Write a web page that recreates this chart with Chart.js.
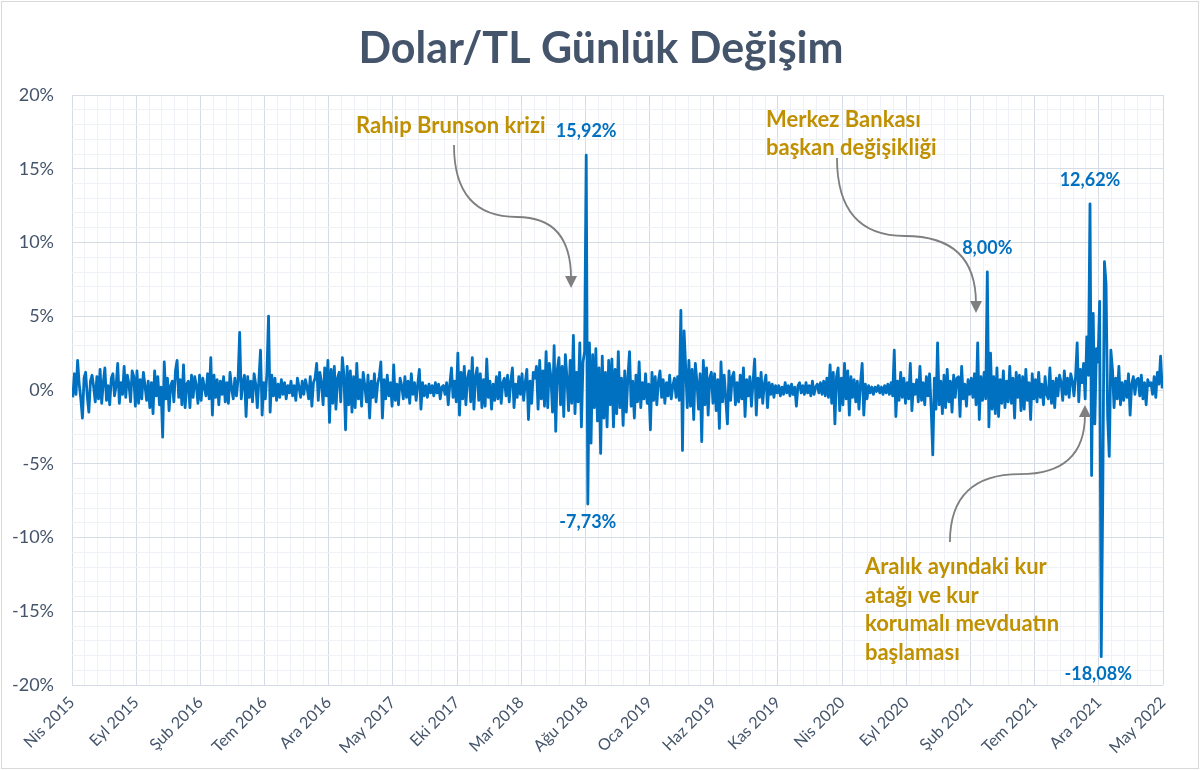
<!DOCTYPE html>
<html lang="tr">
<head>
<meta charset="utf-8">
<title>Dolar/TL Günlük Değişim</title>
<script src="https://cdn.jsdelivr.net/npm/chart.js@4.4.1/dist/chart.umd.min.js"></script>
<style>
  html, body { margin: 0; padding: 0; background: #fff; }
</style>
</head>
<body>
<canvas id="fxChart" width="1200" height="770"></canvas>
<script>
// x axis labels, one every 5 months from Nisan 2015
const monthLabels = [
  "Nis 2015", "Eyl 2015", "Şub 2016", "Tem 2016", "Ara 2016", "May 2017",
  "Eki 2017", "Mar 2018", "Ağu 2018", "Oca 2019", "Haz 2019", "Kas 2019",
  "Nis 2020", "Eyl 2020", "Şub 2021", "Tem 2021", "Ara 2021", "May 2022"
];

// daily USD/TRY change in %, 8 readings per month
const r2015 = [
  -0.5, 1.1, -0.3, 2.0, 0.4, -0.6, -1.9, 0.8,
  1.2, -0.4, -1.5, 0.6, 1.0, 0.2, -0.8, 0.9,
  -0.6, 1.4, -0.9, 0.5, 1.5, -0.7, 0.3, -1.0,
  0.8, 1.1, -0.4, 0.3, 1.8, -0.9, 0.5, -0.3,
  1.6, -0.5, 1.0, 0.4, -0.8, 1.3, 0.9, -1.1,
  1.3, -0.9, 0.7, -0.6, 1.2, 0.3, -0.7, 0.6,
  -1.2, 0.5, -1.6, 1.3, -0.4, 0.9, -1.0, 0.2,
  -3.2, 1.9, -0.6, 0.8, -1.4, 0.3, 0.6, -0.8,
  1.3, 2.0, -0.5, 0.7, -1.0, 1.7, -1.2, 0.4
];
const r2016 = [
  0.6, -1.2, 1.0, -0.5, 0.9, 0.3, -0.9, 1.0,
  -0.7, 0.8, 0.2, -0.4, 1.1, -0.6, 2.2, -1.7,
  1.0, -0.5, 0.7, -1.0, 0.6, -0.3, 0.9, -0.8,
  0.5, -0.9, 1.2, 0.1, -0.6, 0.8, -0.4, 0.7,
  3.9, -0.6, 0.5, 1.0, -1.8, 0.9, -0.5, 0.6,
  -0.8, 1.1, 0.4, -1.2, 0.7, 2.7, -1.7, 0.5,
  -0.6, 1.2, 5.0, -1.5, 1.0, -0.4, 0.8, -0.7,
  0.4, -0.5, 0.7, -0.3, 0.5, -0.6, 0.3, -0.2,
  0.6, -0.4, 0.3, -0.7, 0.8, 0.2, -0.5, 0.6,
  -0.3, 0.7, 0.2, -0.6, 0.9, -1.1, 0.5, 0.8,
  1.8, -0.7, 1.2, 0.5, -1.0, 1.5, -0.4, 2.0,
  -2.2, 1.4, -0.9, 1.6, -1.3, 0.8, 1.2, -0.8
];
const r2017 = [
  2.2, 1.0, -2.7, 1.6, -1.0, 1.3, -1.5, 0.9,
  -1.2, 1.8, -0.6, 0.7, -1.1, 1.2, 0.3, -0.8,
  1.0, -1.9, 0.6, -0.5, 1.1, -0.8, 0.4, 0.9,
  1.9, -1.9, 0.7, -0.6, 1.0, -0.4, 0.5, -1.1,
  1.7, -0.7, 0.4, -1.0, 0.8, 0.3, -0.6, 0.9,
  -0.5, 0.6, -0.9, 1.1, -0.3, 0.5, -0.7, 0.4,
  1.4, -1.3, 0.5, -0.4, 0.3, -0.5, 0.4, -0.2,
  0.3, -0.4, 0.5, -0.2, 0.4, -0.6, 0.2, 0.3,
  -0.3, 0.5, -1.0, 0.4, 1.5, -0.5, 0.6, -0.8,
  2.5, -1.7, 1.2, -0.6, 1.6, -1.0, 0.8, 1.3,
  -0.8, 2.2, -1.3, 0.9, 1.5, -0.7, 1.1, -1.2,
  0.7, -1.1, 2.1, -0.5, 0.6, -1.3, 0.4, -0.7
];
const r2018 = [
  0.9, -0.6, 1.2, -0.9, 0.5, 0.8, -0.4, 1.0,
  -0.8, 0.6, 1.5, -1.2, 0.4, -0.5, 0.9, -0.3,
  1.1, -0.7, 0.5, 1.4, -2.0, 0.6, -0.9, 1.2,
  0.8, 1.6, -1.3, 2.0, -0.6, 1.3, -1.1, 2.6,
  -1.2, 1.8, 0.9, -1.5, 3.0, -2.8, 1.4, 2.2,
  -1.0, 1.6, -1.8, 2.4, 0.8, -1.4, 2.0, -0.9,
  3.7, -1.6, 1.2, -0.8, 3.2, -2.5, 1.9, 2.6,
  15.92, -7.73, 3.2, -3.6, 2.4, -1.2, 2.8, -2.1,
  1.5, -4.3, 2.3, -1.9, 1.2, -2.5, 2.0, -1.0,
  2.1, -2.5, 1.4, -1.6, 2.6, -1.2, 0.8, -2.4,
  1.3, -1.5, 0.9, 2.6, -1.1, 0.6, -1.9, 1.0,
  -0.8, 1.9, -1.2, 0.5, -0.6, 1.1, -0.9, 0.4
];
const r2019 = [
  -2.7, 1.2, -0.7, 0.9, -1.0, 0.6, 1.3, -0.5,
  0.7, -0.9, 0.5, -0.4, 1.0, -0.6, 0.3, 0.8,
  -0.5, 0.9, -0.7, 5.4, -4.1, 4.0, 1.5, -1.2,
  2.0, -1.1, 1.4, -2.0, 1.8, 0.6, -1.3, 1.1,
  -3.5, 2.0, -1.0, 1.5, -1.7, 0.8, 1.2, -0.9,
  1.1, -1.4, 0.7, -2.6, 1.9, -0.8, 1.0, -0.6,
  -2.3, 1.3, -0.7, 0.9, 1.2, -1.0, 0.5, -0.8,
  1.0, -0.6, 1.5, -1.8, 0.7, -0.4, 0.9, -1.1,
  0.6, 2.1, -1.7, 0.8, -0.5, 1.2, -0.9, 0.4,
  1.0, -1.2, 0.5, -0.3, 0.4, -0.5, 0.3, -0.2,
  0.3, -0.4, 0.2, -0.3, 0.5, -0.2, 0.3, -0.4,
  0.4, -0.3, 0.2, -1.1, 0.3, 0.5, -0.2, 0.3
];
const r2020 = [
  -0.3, 0.5, -0.2, 0.3, -0.4, 0.6, -0.3, 0.2,
  0.4, -0.2, 0.5, -0.3, 0.6, -0.4, 0.8, -0.5,
  1.7, -0.9, 1.2, -2.3, 0.9, 1.5, -1.4, 0.8,
  -1.0, 1.8, -0.6, 1.3, -1.7, 0.9, -0.5, 0.7,
  -0.8, 0.6, -1.3, 0.5, 1.8, -1.7, 0.4, -0.6,
  0.3, -0.2, 0.2, -0.3, 0.2, -0.1, 0.3, -0.2,
  0.2, -0.3, 0.3, -0.2, 0.4, -0.3, 0.5, -0.4,
  2.7, -1.8, 0.6, -0.7, 1.2, -0.5, 0.8, -0.9,
  0.5, -0.6, 1.8, -1.4, 0.4, -0.3, 0.7, -0.8,
  1.6, -0.7, 0.5, -1.0, 0.9, -0.4, 1.1, -1.2,
  -4.4, 0.8, -1.3, 3.2, -1.0, 0.6, -1.6, 1.0,
  -1.2, 1.4, -0.8, 0.6, -1.5, 1.0, -0.5, 0.8
];
const r2021 = [
  0.9, -1.8, 1.6, -0.6, 0.4, -1.1, 0.7, -0.3,
  0.8, -0.5, 1.1, -1.0, 3.2, -2.0, 0.9, -0.7,
  1.2, -0.6, 8.00, -2.5, 2.5, -1.3, 0.9, -1.6,
  1.5, -1.8, 0.7, -0.9, 1.3, -1.2, 0.6, -0.8,
  1.6, -0.9, 0.8, -1.9, 1.2, -0.5, 1.0, -1.4,
  0.9, -1.3, 1.4, -0.7, 0.5, -2.0, 1.1, -0.6,
  0.7, -0.8, 1.2, -0.5, 0.4, -1.0, 0.9, -0.3,
  -0.6, 1.5, -0.9, 0.6, -1.2, 0.8, -0.4, 1.0,
  0.5, -0.7, 1.3, -0.3, 0.8, -0.5, 1.1, 0.6,
  -0.4, 0.9, 3.2, -0.8, 1.4, 0.5, 1.8, -0.6,
  3.6, 1.0, 12.62, -5.8, 5.2, -2.3, 2.8, 1.9,
  6.0, -18.08, -6.6, 8.7, 7.2, -1.8, -4.5, 2.7
];
const r2022 = [
  1.4, -1.2, 0.8, -0.6, 1.6, -1.0, 0.5, -0.7,
  0.6, -0.5, 1.1, -1.7, 0.4, 0.9, -0.3, 0.7,
  0.8, -0.4, 1.0, -0.6, 0.5, -1.0, 0.7, 0.3,
  0.5, -0.3, 0.9, -0.5, 1.2, 0.4, 2.3, 0.1
];

// values that get a label on the chart
const peakValues = [15.92, -7.73, 8.00, 12.62, -18.08];

const titleText = "Dolar/TL Günlük Değişim";
const noteBrunson = ["Rahip Brunson krizi"];
const noteMerkez = ["Merkez Bankası", "başkan değişikliği"];
const noteAralik = ["Aralık ayındaki kur", "atağı ve kur", "korumalı mevduatın", "başlaması"];

const PER_MONTH = 8;
const FONT = "Lato, 'Open Sans', sans-serif";
const TEXT_DARK = "#44546A";
const GOLD = "#BF9000";
const BLUE = "#0070C0";

const allValues = [].concat(r2015, r2016, r2017, r2018, r2019, r2020, r2021, r2022);
const points = allValues.map((v, i) => ({ x: (i + 0.5) / PER_MONTH, y: v }));

// where the notes / arrows sit, in axis units (month index, percent)
const notes = [
  { lines: noteBrunson, x: 22.13, y: 17.40 },
  { lines: noteMerkez, x: 54.07, y: 17.85 },
  { lines: noteAralik, x: 61.78, y: -12.47 }
];
const arrows = [
  { from: [29.76, 16.61], mid: [34.67, 11.73], to: [38.88, 6.92] },
  { from: [59.6, 15.73], mid: [64.9, 10.44], to: [70.43, 5.22] },
  { from: [68.4, -10.3], mid: [73.86, -5.7], to: [78.92, -1.02] }
];
const peakOffsets = { "15.92": [0, -24], "-7.73": [0, 18], "8": [0, -24], "12.62": [0, -24], "-18.08": [-3, 18] };

const fmtPct = (v) => v.toFixed(2).replace(".", ",") + "%";

const decorPlugin = {
  id: "decor",
  beforeDraw(chart) {
    const ctx = chart.ctx;
    ctx.save();
    ctx.fillStyle = "#fff";
    ctx.fillRect(0, 0, chart.width, chart.height);
    ctx.strokeStyle = "#D9D9D9";
    ctx.lineWidth = 1;
    ctx.strokeRect(1.5, 1.5, chart.width - 3, chart.height - 3);
    // title
    ctx.fillStyle = TEXT_DARK;
    ctx.font = "bold 43px " + FONT;
    ctx.textAlign = "center";
    ctx.textBaseline = "alphabetic";
    ctx.fillText(titleText, 601, 63);
    ctx.restore();
  },
  afterDatasetsDraw(chart) {
    const ctx = chart.ctx;
    const xs = chart.scales.x, ys = chart.scales.y;
    const px = (p) => [xs.getPixelForValue(p[0]), ys.getPixelForValue(p[1])];
    ctx.save();

    // grey curved arrows
    ctx.strokeStyle = "#7F7F7F";
    ctx.fillStyle = "#7F7F7F";
    ctx.lineWidth = 1.8;
    arrows.forEach((a) => {
      const f = px(a.from), m = px(a.mid), t = px(a.to);
      const c2 = [t[0], m[1]];
      const ang = Math.atan2(t[1] - c2[1], t[0] - c2[0]);
      const head = 12;
      const end = [t[0] - Math.cos(ang) * head * 0.8, t[1] - Math.sin(ang) * head * 0.8];
      ctx.beginPath();
      ctx.moveTo(f[0], f[1]);
      ctx.quadraticCurveTo(f[0], m[1], m[0], m[1]);
      ctx.quadraticCurveTo(c2[0], c2[1], end[0], end[1]);
      ctx.stroke();
      ctx.beginPath();
      ctx.moveTo(t[0], t[1]);
      ctx.lineTo(t[0] - Math.cos(ang) * head + Math.sin(ang) * 6, t[1] - Math.sin(ang) * head - Math.cos(ang) * 6);
      ctx.lineTo(t[0] - Math.cos(ang) * head - Math.sin(ang) * 6, t[1] - Math.sin(ang) * head + Math.cos(ang) * 6);
      ctx.closePath();
      ctx.fill();
    });

    // gold notes
    ctx.fillStyle = GOLD;
    ctx.font = "bold 22px " + FONT;
    ctx.textAlign = "left";
    ctx.textBaseline = "alphabetic";
    notes.forEach((n) => {
      const p = px([n.x, n.y]);
      n.lines.forEach((line, i) => ctx.fillText(line, p[0], p[1] + i * 28.7));
    });

    // peak value labels
    const meta = chart.getDatasetMeta(0);
    ctx.fillStyle = BLUE;
    ctx.font = "bold 18px " + FONT;
    ctx.textAlign = "center";
    ctx.textBaseline = "middle";
    peakValues.forEach((v) => {
      const idx = allValues.indexOf(v);
      if (idx < 0) return;
      const el = meta.data[idx];
      const off = peakOffsets[String(v)] || [0, v > 0 ? -24 : 18];
      ctx.fillText(fmtPct(v), el.x + off[0], el.y + off[1]);
    });
    ctx.restore();
  }
};

const gridColor = (ctx) => (ctx.tick && ctx.tick.value % 5 === 0 ? "#D6DCE5" : "#EEF1F6");

function draw() {
  new Chart(document.getElementById("fxChart"), {
    type: "line",
    data: {
      datasets: [{
        data: points,
        borderColor: BLUE,
        borderWidth: 2.8,
        borderJoinStyle: "round",
        pointRadius: 0,
        tension: 0,
        fill: false
      }]
    },
    options: {
      responsive: false,
      animation: false,
      parsing: false,
      layout: { padding: { top: 95, right: 37, left: 0, bottom: 0 } },
      plugins: {
        legend: { display: false },
        title: { display: false },
        tooltip: { enabled: false }
      },
      scales: {
        x: {
          type: "linear",
          min: 0,
          max: 85,
          afterFit: (s) => { s.height = 85; },
          grid: { color: gridColor, lineWidth: 1, drawTicks: false },
          border: { display: false },
          ticks: {
            stepSize: 1,
            autoSkip: false,
            maxRotation: 45,
            minRotation: 45,
            padding: 8,
            color: TEXT_DARK,
            font: { family: FONT, size: 16 },
            callback: (v) => (v % 5 === 0 ? monthLabels[v / 5] : "")
          }
        },
        y: {
          min: -20,
          max: 20,
          afterFit: (s) => { s.width = 72; },
          grid: { color: gridColor, lineWidth: 1, drawTicks: false },
          border: { display: false },
          ticks: {
            stepSize: 1,
            autoSkip: false,
            padding: 18,
            color: TEXT_DARK,
            font: { family: FONT, size: 18 },
            callback: (v) => (v % 5 === 0 ? v + "%" : "")
          }
        }
      }
    },
    plugins: [decorPlugin]
  });
}

if (document.fonts && document.fonts.load) {
  Promise.all([
    document.fonts.load("bold 40px Lato"),
    document.fonts.load("16px Lato")
  ]).then(draw, draw);
} else {
  draw();
}
</script>
</body>
</html>
